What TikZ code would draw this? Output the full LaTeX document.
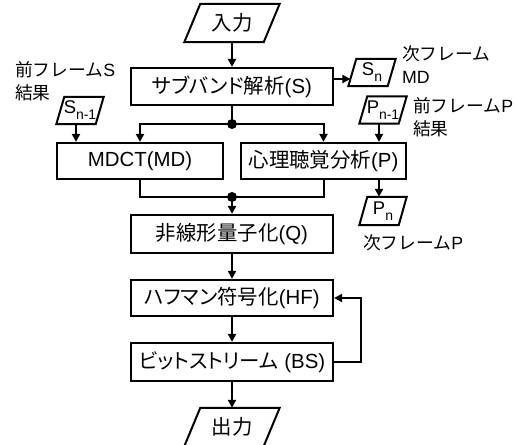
\documentclass[tikz,border=0pt]{standalone}
\usepackage{fontspec}
\setmainfont{Liberation Sans}
\newfontfamily\jp[RawFeature=+palt]{Noto Sans CJK JP}
\newfontfamily\jpf{Noto Sans CJK JP}
\usetikzlibrary{arrows.meta,calc}
\newcommand{\mypgram}[2]{\draw[line width=2bp, line join=miter] ($(#1.south west)+(-#2,0)$) -- ($(#1.north west)+(#2,0)$) -- ($(#1.north east)+(#2,0)$) -- ($(#1.south east)+(-#2,0)$) -- cycle;}
\newcommand{\subtxt}[2]{#1\raisebox{-6bp}{\fontsize{14}{14}\selectfont #2}}
\tikzset{
  ln/.style={line width=2bp},
  arr/.style={ln,-{Triangle[length=8bp,width=8bp]}},
  box/.style={draw, line width=2.2bp, minimum width=202bp, minimum height=37bp, inner sep=0pt, font=\fontsize{20.5}{24}\selectfont},
  pgt/.style={inner sep=0pt, font=\fontsize{18.5}{20}\selectfont},
  lab/.style={inner sep=0pt, align=left, anchor=west, font=\fontsize{17.8}{23}\selectfont},
}
\begin{document}
\begin{tikzpicture}[x=1bp,y=-1bp]
\path[use as bounding box, fill=white] (0,0) rectangle (516,445);

% parallelograms
\node[pgt, minimum width=79bp, minimum height=38bp, font=\fontsize{20.5}{24}\selectfont\jp] (in) at (232,23) {入力};
\mypgram{in}{8}
\node[pgt, minimum width=79bp, minimum height=38bp, font=\fontsize{20.5}{24}\selectfont\jp] (out) at (232,427) {出力};
\mypgram{out}{8}
\node[pgt, minimum width=39bp, minimum height=27bp] (Sn) at (372,72.5) {\subtxt{S}{n}};
\mypgram{Sn}{4}
\node[pgt, minimum width=39bp, minimum height=27bp] (Sn1) at (80,110.5) {\subtxt{S}{n-1}};
\mypgram{Sn1}{4}
\node[pgt, minimum width=39bp, minimum height=27bp] (Pn1) at (383,110) {\subtxt{P}{n-1}};
\mypgram{Pn1}{4}
\node[pgt, minimum width=39bp, minimum height=28bp] (Pn) at (383,211) {\subtxt{P}{n}};
\mypgram{Pn}{4}

% boxes
\node[box] (sub) at (232,86.5) {{\jp サブバンド解析}(S)};
\node[box, minimum width=166bp, minimum height=36bp] (MD) at (140,161) {MDCT(MD)};
\node[box, minimum width=165bp, minimum height=36bp] (P) at (323.5,161) {{\jp 心理聴覚分析}(P)};
\node[box, minimum height=38bp] (Q) at (232,234) {{\jp 非線形量子化}(Q)};
\node[box, minimum height=36bp] (HF) at (232,298) {{\jp ハフマン符号化}(HF)};
\node[box, minimum height=38bp] (BS) at (232,362) {{\jp ビットストリーム} (BS)};

% labels
\node[lab] (lSn) at (402,64.5) {{\jpf 次フレーム}\\MD};
\node[lab] (lPn1) at (413,117) {{\jpf 前フレーム}P\\{\jpf 結果}};
\node[lab] (lSn1) at (15,81.5) {{\jpf 前フレーム}S\\{\jpf 結果}};
\node[lab] (lPn) at (363,243) {{\jpf 次フレーム}P};

% coordinates
\coordinate (split) at (232,124);
\coordinate (merge) at (232,197);
\coordinate (snin) at ($(Sn.west)+(-1.9,6.5)$);
\coordinate (sn1out) at ($(Sn1.south)+(-4,0)$);
\coordinate (pn1out) at ($(Pn1.south)+(-4,0)$);

% connectors
\draw[arr] (in.south) -- (sub.north);
\draw[arr] (sub.east |- snin) -- (snin);
\draw[ln] (sub.south) -- (split);
\draw[arr] (split) -| (MD.north);
\draw[arr] (split) -| (P.north);
\fill (split) circle (5bp);
\draw[arr] (sn1out) -- (sn1out |- MD.north);
\draw[arr] (pn1out) -- (pn1out |- P.north);
\draw[arr] (pn1out |- P.south) -- (pn1out |- Pn.north);
\draw[ln] (MD.south) |- (merge) -| (P.south);
\fill (merge) circle (5bp);
\draw[arr] (merge) -- (Q.north);
\draw[arr] (Q.south) -- (HF.north);
\draw[arr] (HF.south) -- (BS.north);
\draw[arr] (BS.east) -- ++(27,0) |- (HF.east);
\draw[arr] (BS.south) -- (out.north);
\end{tikzpicture}
\end{document}
